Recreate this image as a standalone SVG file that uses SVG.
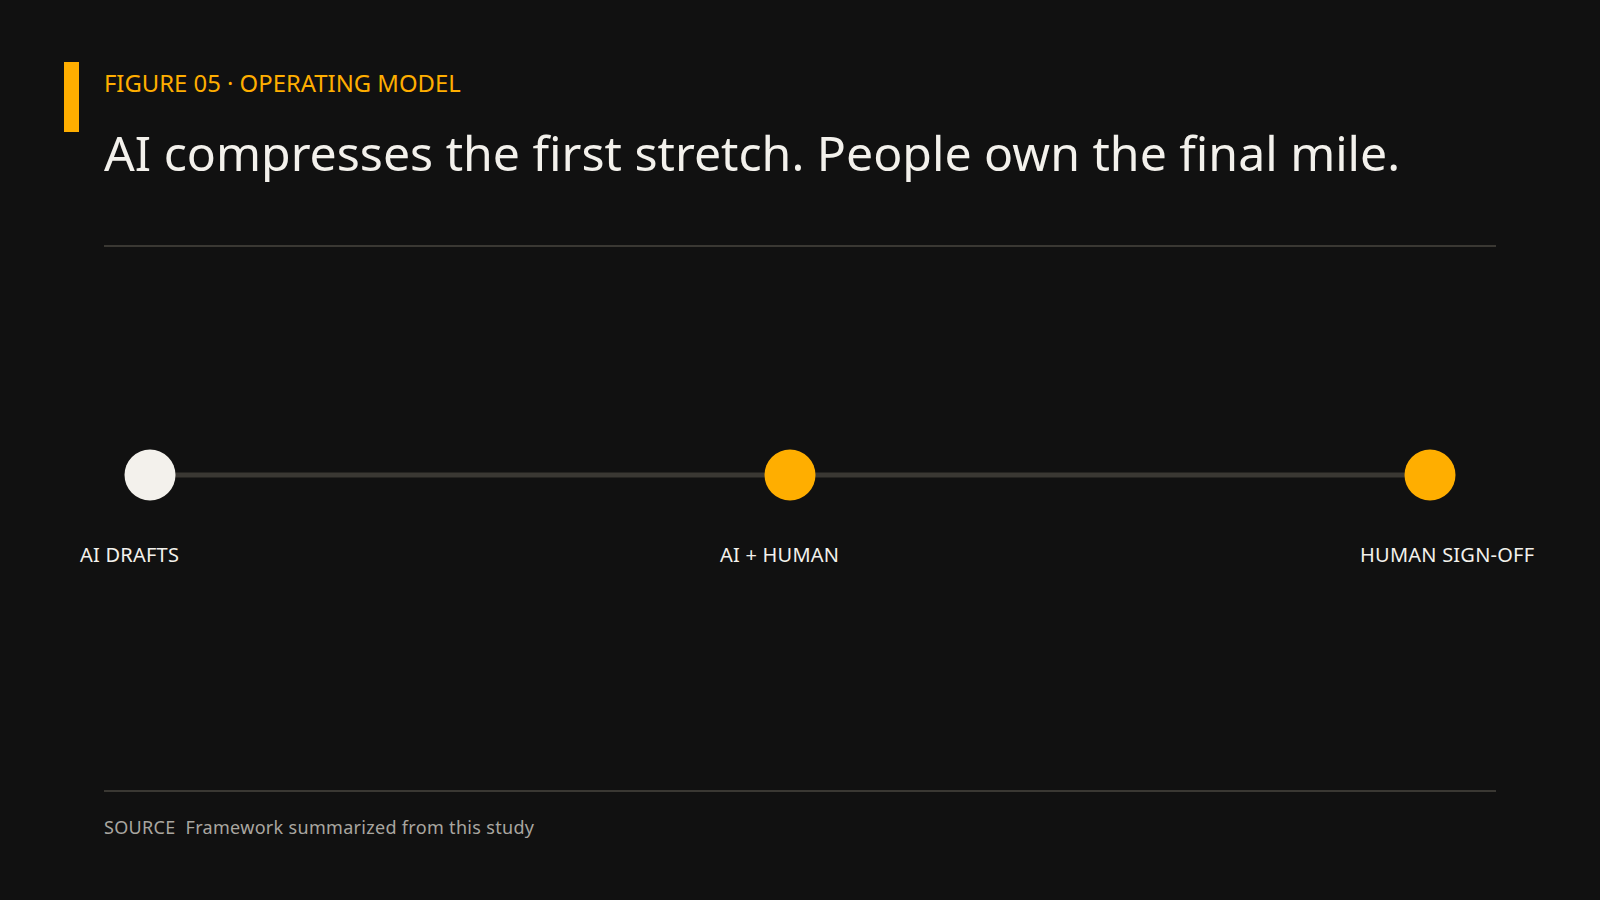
<svg xmlns="http://www.w3.org/2000/svg" width="1600" height="900" viewBox="0 0 1600 900">
  <style>
    .t { font-family: "Noto Sans", "Open Sans", sans-serif; }
    .eyebrow { fill: #FFAE00; font-size: 23.85px; }
    .title { fill: #F3F1EC; font-size: 48.2px; }
    .label { fill: #F3F1EC; font-size: 20px; letter-spacing: 0.23px; }
    .source { fill: #A9A6A0; font-size: 18px; letter-spacing: 0.31px; }
    .rule { stroke: #3A3833; stroke-width: 2; }
    .track { stroke: #3A3833; stroke-width: 5; }
  </style>
  <rect x="0" y="0" width="1600" height="900" fill="#111111"/>
  <g id="header">
    <rect x="64" y="62" width="15" height="70" fill="#FFAE00"/>
    <text class="t eyebrow" x="104" y="92">FIGURE 05 · OPERATING MODEL</text>
    <text class="t title" x="104" y="171">AI compresses the first stretch. People own the final mile.</text>
    <line class="rule" x1="104" y1="246" x2="1496" y2="246"/>
  </g>
  <g id="connectors">
    <line class="track" x1="150" y1="475" x2="1430" y2="475"/>
  </g>
  <g id="node-ai-drafts">
    <circle cx="150" cy="475" r="25.5" fill="#F3F1EC"/>
    <text class="t label" x="80" y="562">AI DRAFTS</text>
  </g>
  <g id="node-ai-human">
    <circle cx="790" cy="475" r="25.5" fill="#FFAE00"/>
    <text class="t label" x="720" y="562">AI + HUMAN</text>
  </g>
  <g id="node-human-signoff">
    <circle cx="1430" cy="475" r="25.5" fill="#FFAE00"/>
    <text class="t label" x="1360" y="562">HUMAN SIGN-OFF</text>
  </g>
  <g id="footer">
    <line class="rule" x1="104" y1="791" x2="1496" y2="791"/>
    <text class="t source" x="104" y="834" xml:space="preserve">SOURCE  Framework summarized from this study</text>
  </g>
</svg>
